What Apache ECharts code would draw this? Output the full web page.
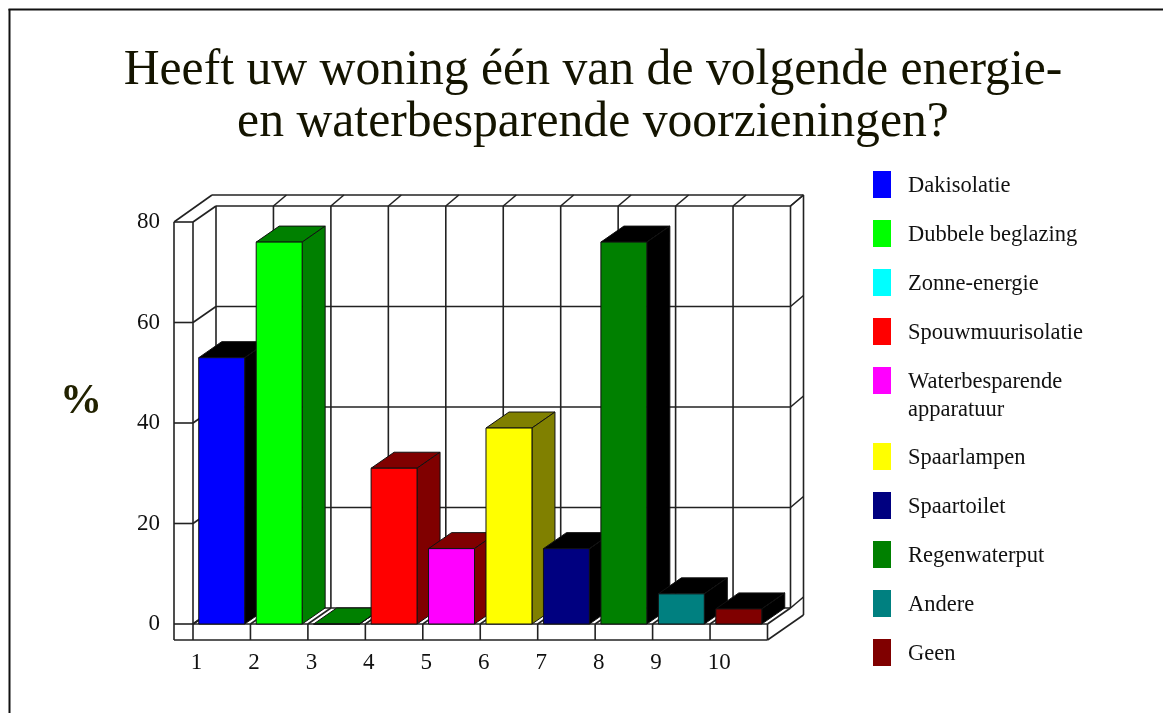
<!DOCTYPE html>
<html>
<head>
<meta charset="utf-8">
<title>Energie- en waterbesparende voorzieningen</title>
<style>
    html, body { margin: 0; padding: 0; background: #fff; }
    #chart { width: 1163px; height: 713px; }
</style>
<script src="https://cdn.jsdelivr.net/npm/echarts@6/dist/echarts.min.js"></script>
</head>
<body>
<div id="chart"></div>
<script>
const titleText = 'Heeft uw woning één van de volgende energie-\nen waterbesparende voorzieningen?';
const categories = ['1', '2', '3', '4', '5', '6', '7', '8', '9', '10'];
const seriesNames = ['Dakisolatie', 'Dubbele beglazing', 'Zonne-energie', 'Spouwmuurisolatie',
    'Waterbesparende\napparatuur', 'Spaarlampen', 'Spaartoilet', 'Regenwaterput', 'Andere', 'Geen'];
const values = [53, 76, 0, 31, 15, 39, 15, 76, 6, 3];
const yTicks = [0, 20, 40, 60, 80];

const frontColors = ['#0000ff', '#00ff00', '#00ffff', '#ff0000', '#ff00ff', '#ffff00', '#000080', '#008000', '#008080', '#800000'];
const shadeColors = ['#000000', '#008000', '#008000', '#800000', '#800000', '#808000', '#000000', '#000000', '#000000', '#000000'];

const FONT = '"Liberation Serif", serif';
const LINE = '#222';
// depth of the 3d box, in pixels
const DX = 23, DY = 16;
const WALL_DX = 13, WALL_DY = 11;
const LEFT_W = 19, BASE_H = 16;

function seg(x1, y1, x2, y2) {
    return {
        type: 'line',
        shape: { x1: x1, y1: y1, x2: x2, y2: y2 },
        style: { stroke: LINE, lineWidth: 1.6, fill: null }
    };
}

// grid lines on the walls, one item per y tick
function renderWall(params, api) {
    const band = api.size([1, 0])[0];
    const p = api.coord([0, api.value(1)]);
    const x0 = p[0] - band / 2, y = p[1];
    const x1 = x0 + band * categories.length;
    return {
        type: 'group',
        children: [
            seg(x0 + DX, y - DY, x1 + DX, y - DY),
            seg(x1 + DX, y - DY, x1 + DX + WALL_DX, y - DY - WALL_DY),
            seg(x0, y, x0 + DX, y - DY),
            seg(x0 - LEFT_W, y, x0, y)
        ]
    };
}

// verticals on the back wall and floor lines, one item per category
function renderSlots(params, api) {
    const i = api.value(0);
    const band = api.size([1, 0])[0];
    const top = api.coord([i, 80]), bottom = api.coord([i, 0]);
    const kids = [];
    const count = i === categories.length - 1 ? 2 : 1;
    for (let k = 0; k < count; k++) {
        const x = top[0] - band / 2 + band * k;
        kids.push(seg(x + DX, top[1] - DY, x + DX, bottom[1] - DY));
        if (i > 0 || k > 0) {
            kids.push(seg(x + DX, top[1] - DY, x + DX + WALL_DX, top[1] - DY - WALL_DY));
        }
        kids.push(seg(x, bottom[1], x + DX, bottom[1] - DY));
        kids.push(seg(x, bottom[1], x, bottom[1] + BASE_H));
    }
    if (i === 0) {
        const x0 = top[0] - band / 2;
        const outerTop = top[1] - DY - WALL_DY;
        kids.push(seg(x0, top[1], x0, bottom[1]));
        kids.push(seg(x0 - LEFT_W, top[1], x0 - LEFT_W, bottom[1] + BASE_H));
        kids.push(seg(x0 - LEFT_W, bottom[1] + BASE_H, x0 + band * categories.length, bottom[1] + BASE_H));
        kids.push(seg(x0, bottom[1], x0 + band * categories.length, bottom[1]));
        kids.push(seg(x0 - LEFT_W, top[1], x0 + DX - 4, outerTop));
        kids.push(seg(x0 + DX - 4, outerTop, x0 + DX + WALL_DX + band * categories.length, outerTop));
    }
    if (i === categories.length - 1) {
        const xr = top[0] + band / 2;
        const rightX = xr + DX + WALL_DX;
        kids.push(seg(rightX, top[1] - DY - WALL_DY, rightX, bottom[1] - DY + 7));
        kids.push(seg(xr, bottom[1] + BASE_H, rightX, bottom[1] - DY + 7));
    }
    return { type: 'group', children: kids };
}

function renderBar(colorIdx) {
    return function (params, api) {
        const x = api.coord([api.value(0), 0])[0];
        const y0 = api.coord([api.value(0), 0])[1];
        const y1 = api.coord([api.value(0), api.value(1)])[1];
        const w = api.size([1, 0])[0] * 0.8;
        const l = x - w / 2, r = x + w / 2;
        const edge = { stroke: '#111', lineWidth: 1 };
        return {
            type: 'group',
            children: [
                { type: 'polygon', shape: { points: [[l, y1], [r, y1], [r + DX, y1 - DY], [l + DX, y1 - DY]] },
                  style: Object.assign({ fill: shadeColors[colorIdx] }, edge) },
                { type: 'polygon', shape: { points: [[r, y1], [r + DX, y1 - DY], [r + DX, y0 - DY], [r, y0]] },
                  style: Object.assign({ fill: shadeColors[colorIdx] }, edge) },
                { type: 'rect', shape: { x: l, y: y1, width: w, height: y0 - y1 },
                  style: Object.assign({ fill: frontColors[colorIdx] }, edge) }
            ]
        };
    };
}

const chart = echarts.init(document.getElementById('chart'));

const series = [
    {
        type: 'custom', name: 'wall', silent: true, coordinateSystem: 'cartesian2d',
        data: yTicks.map(function (v) { return [0, v]; }),
        encode: { x: 0, y: 1 },
        renderItem: renderWall
    },
    {
        type: 'custom', name: 'slots', silent: true, coordinateSystem: 'cartesian2d',
        data: categories.map(function (c, i) { return [i]; }),
        encode: { x: 0 },
        renderItem: renderSlots
    }
];

seriesNames.forEach(function (name, i) {
    series.push({
        type: 'custom',
        name: name,
        coordinateSystem: 'cartesian2d',
        legendIcon: 'rect',
        itemStyle: { color: frontColors[i] },
        data: [[i, values[i]]],
        encode: { x: 0, y: 1 },
        renderItem: renderBar(i)
    });
});

// the legend is split in two so the two line entry keeps its swatch on the first line;
// the second line of that entry is a graphic text below
function legendPart(names, top) {
    return {
        orient: 'vertical', left: 868, top: top,
        itemWidth: 18, itemHeight: 27, itemGap: 22,
        selectedMode: false,
        icon: 'rect',
        data: names,
        formatter: function (name) { return '{a|' + name.split('\n')[0] + '}'; },
        textStyle: {
            rich: { a: { fontFamily: FONT, fontSize: 22.5, color: '#111', lineHeight: 27, padding: [4, 0, 0, 12] } }
        }
    };
}

chart.setOption({
    animation: false,
    backgroundColor: '#fff',
    title: [
        {
            text: titleText, left: 588, top: 40, textAlign: 'center',
            textStyle: { fontFamily: FONT, fontSize: 49.7, fontWeight: 'normal', color: '#141400', lineHeight: 52 }
        },
        {
            text: '%', left: 76, top: 376, textAlign: 'center',
            textStyle: { fontFamily: FONT, fontSize: 42, fontWeight: 'bold', color: '#222200' }
        }
    ],
    grid: { left: 193, right: 395.5, top: 222, bottom: 89 },
    legend: [legendPart(seriesNames.slice(0, 5), 166), legendPart(seriesNames.slice(5), 438)],
    xAxis: {
        type: 'category',
        data: categories,
        axisLine: { show: false },
        axisTick: { show: false },
        splitLine: { show: false },
        axisLabel: {
            interval: 0, margin: 27, color: '#111', padding: [0, 38, 0, 0],
            formatter: function (v) { return '{a|' + v + '}'; },
            rich: { a: { fontFamily: FONT, fontSize: 23, color: '#111', width: 24, align: 'left' } }
        }
    },
    yAxis: {
        type: 'value',
        min: 0, max: 80, interval: 20,
        axisLine: { show: false },
        axisTick: { show: false },
        splitLine: { show: false },
        axisLabel: { fontFamily: FONT, fontSize: 23, color: '#111', margin: 33 }
    },
    graphic: [
        { type: 'line', silent: true, shape: { x1: 8.5, y1: 9.5, x2: 1163, y2: 9.5 }, style: { stroke: '#111', lineWidth: 2 } },
        { type: 'line', silent: true, shape: { x1: 9.5, y1: 9, x2: 9.5, y2: 713 }, style: { stroke: '#111', lineWidth: 2 } },
        { type: 'text', silent: true, x: 908, y: 410, style: { text: seriesNames[4].split('\n')[1], font: '22.5px ' + FONT, fill: '#111', verticalAlign: 'middle' } }
    ],
    series: series
});
</script>
</body>
</html>
